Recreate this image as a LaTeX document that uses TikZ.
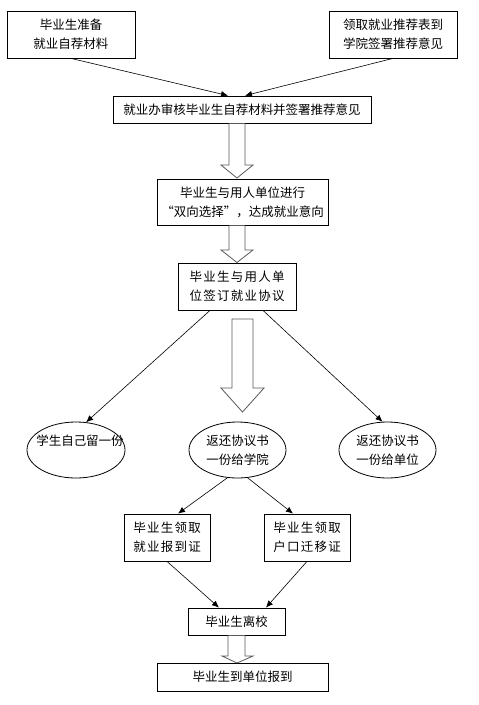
\documentclass[tikz,border=0pt]{standalone}
\usepackage{fontspec}
\usepackage{tikz}
\usetikzlibrary{shapes.geometric,arrows.meta}
\setmainfont{Noto Sans CJK SC}
\newfontfamily\widecjk[LetterSpace=10]{Noto Sans CJK SC}

\begin{document}
\begin{tikzpicture}[x=1pt, y=-1pt,
  box/.style={rectangle, draw, line width=0.8pt, align=center, inner sep=0pt,
              font=\fontsize{12.5}{19}\selectfont},
  oval/.style={ellipse, draw, line width=0.8pt, align=center, inner sep=0pt,
               minimum width=97, minimum height=56, font=\fontsize{12.5}{19}\selectfont},
  link/.style={-{Latex[length=7pt,width=6pt]}, line width=0.6pt},
  fat/.style={draw=black!65, line width=0.8pt, fill=white}]
\useasboundingbox (0,0) rectangle (479,705);

% top row
\node[box, minimum width=128, minimum height=47] (prep) at (71,34.5) {毕业生准备\\就业自荐材料};
\node[box, minimum width=128, minimum height=47] (form) at (393,34.5) {领取就业推荐表到\\学院签署推荐意见};
\node[box, minimum width=258, minimum height=27] (audit) at (242,109.5) {就业办审核毕业生自荐材料并签署推荐意见};
\node[box, minimum width=171, minimum height=46] (select) at (242.5,202) {毕业生与用人单位进行\\“双向选择”，达成就业意向};
\node[box, minimum width=118, minimum height=47, font=\widecjk\fontsize{12.5}{19}\selectfont] (sign) at (237,286.5) {毕业生与用人单\\位签订就业协议};

% ellipses
\node[oval, minimum width=98] (keep) at (76,450) {};
\node[font=\fontsize{12.5}{19}\selectfont] (keeptxt) at (80,441) {学生自己留一份};
\node[oval] (toschool) at (237.5,450) {返还协议书\\一份给学院};
\node[oval] (tounit) at (387.5,450) {返还协议书\\一份给单位};

% bottom part
\node[box, minimum width=86, minimum height=47, font=\widecjk\fontsize{12.5}{19}\selectfont] (report) at (167,537.5) {毕业生领取\\就业报到证};
\node[box, minimum width=86, minimum height=47, font=\widecjk\fontsize{12.5}{19}\selectfont] (hukou) at (307,537.5) {毕业生领取\\户口迁移证};
\node[box, minimum width=97, minimum height=27] (leave) at (236.5,621.5) {毕业生离校};
\node[box, minimum width=171, minimum height=28] (arrive) at (242.5,677) {毕业生到单位报到};

% thin arrows
\draw[link] (prep.south) -- ([xshift=-14pt]audit.north);
\draw[link] (form.south) -- ([xshift=3pt]audit.north);
\draw[link] ([xshift=-27pt]sign.south) -- (keep.70);
\draw[link] ([xshift=26pt]sign.south) -- (tounit.100);
\draw[link] (toschool.250) -- ([xshift=11pt]report.north);
\draw[link] (toschool.290) -- ([xshift=-14pt]hukou.north);
\draw[link] (report.south) -- ([xshift=-17.5pt]leave.north);
\draw[link] (hukou.south) -- ([xshift=29.5pt]leave.north);

% hollow block arrows
\draw[fat] (229,123.5) -- (229,165) -- (221,165) -- (237,178) -- (253,165) -- (245,165) -- (245,123.5);
\draw[fat] (229,225.5) -- (229,250) -- (221,250) -- (237,262.5) -- (253,250) -- (245,250) -- (245,225.5);
\draw[fat] (232,319) -- (232,388) -- (221,388) -- (242.5,412) -- (264,388) -- (253,388) -- (253,319) -- cycle;
\draw[fat] (228,635.5) -- (228,656) -- (222,656) -- (237,663) -- (253,656) -- (245,656) -- (245,635.5);
\end{tikzpicture}
\end{document}
